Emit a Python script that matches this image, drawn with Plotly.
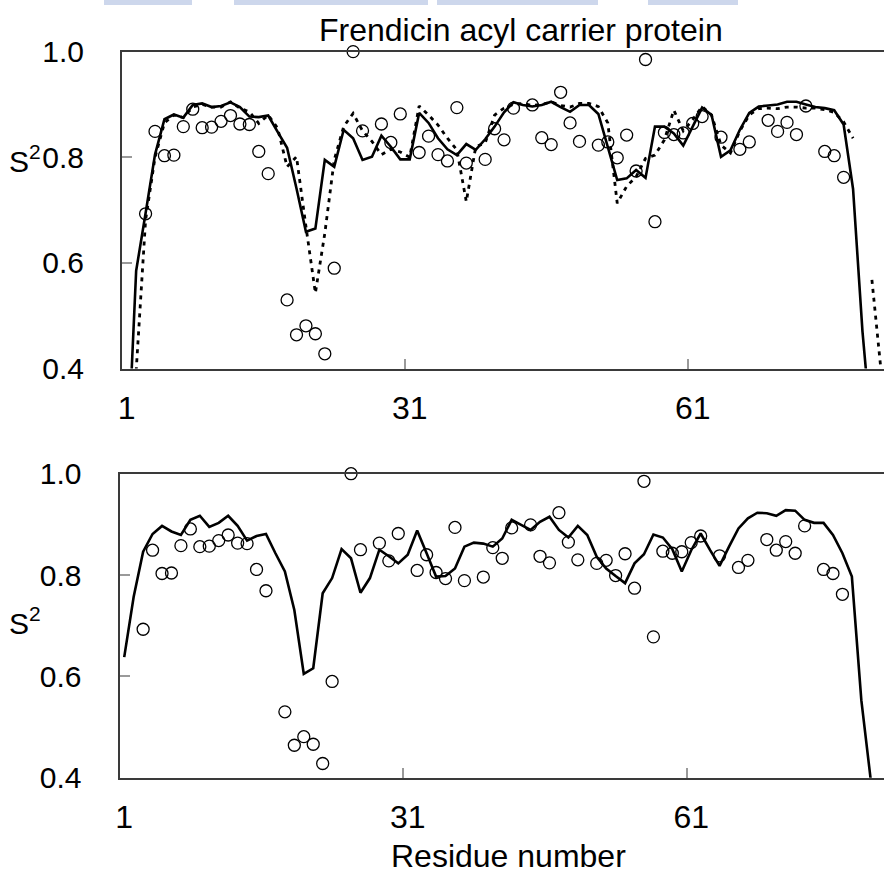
import plotly.graph_objects as go

# ---------------- data ----------------
residues = list(range(1, 82))

solid_top = [0.19, 0.585, 0.694, 0.805, 0.872, 0.881, 0.875, 0.899, 0.902, 0.895,
             0.897, 0.904, 0.895, 0.877, 0.876, 0.879, 0.848, 0.818, 0.741, 0.659,
             0.665, 0.795, 0.782, 0.852, 0.836, 0.795, 0.801, 0.841, 0.820, 0.796,
             0.796, 0.884, 0.865, 0.836, 0.815, 0.804, 0.825, 0.814, 0.834, 0.858,
             0.885, 0.904, 0.899, 0.896, 0.899, 0.905, 0.895, 0.886, 0.899, 0.899,
             0.882, 0.820, 0.757, 0.760, 0.776, 0.761, 0.858, 0.858, 0.845, 0.822,
             0.858, 0.894, 0.880, 0.801, 0.813, 0.852, 0.884, 0.896, 0.898, 0.900,
             0.905, 0.905, 0.900, 0.895, 0.893, 0.889, 0.862, 0.740, 0.470, 0.270,
             None]

dotted_top = [None, 0.395, 0.681, 0.800, 0.865, 0.880, 0.875, 0.895, 0.900, 0.895,
              0.895, 0.905, 0.893, 0.886, 0.864, 0.880, 0.855, 0.782, 0.801, 0.669,
              0.543, 0.656, 0.795, 0.858, 0.883, 0.850, 0.830, 0.805, 0.815, 0.810,
              0.800, 0.897, 0.880, 0.861, 0.836, 0.814, 0.716, 0.820, 0.827, 0.880,
              0.893, 0.900, 0.902, 0.898, 0.900, 0.905, 0.898, 0.895, 0.902, 0.902,
              0.896, 0.865, 0.713, 0.745, 0.763, 0.798, 0.804, 0.833, 0.889, 0.850,
              0.871, 0.896, 0.880, 0.823, 0.808, 0.850, 0.880, 0.892, 0.893, 0.892,
              0.895, 0.895, 0.893, 0.893, 0.890, 0.885, 0.867, 0.836, None, 0.568,
              0.390]

solid_bottom = [0.638, 0.757, 0.846, 0.881, 0.897, 0.886, 0.879, 0.909, 0.917, 0.895,
                0.903, 0.917, 0.897, 0.868, 0.877, 0.881, 0.843, 0.807, 0.731, 0.605,
                0.616, 0.764, 0.794, 0.851, 0.833, 0.765, 0.794, 0.850, 0.837, 0.823,
                0.840, 0.888, 0.843, 0.797, 0.798, 0.813, 0.856, 0.864, 0.862, 0.856,
                0.872, 0.909, 0.899, 0.889, 0.905, 0.915, 0.889, 0.874, 0.897, 0.879,
                0.836, 0.813, 0.798, 0.784, 0.823, 0.841, 0.880, 0.874, 0.851, 0.807,
                0.849, 0.882, 0.849, 0.818, 0.856, 0.892, 0.912, 0.923, 0.922, 0.917,
                0.928, 0.927, 0.909, 0.903, 0.903, 0.879, 0.843, 0.797, 0.553, 0.395,
                None]

circle_residues = [3, 4, 5, 6, 7, 8, 9, 10, 11, 12, 13, 14, 15, 16, 18, 19, 20, 21, 22, 23,
                   25, 26, 28, 29, 30, 32, 33, 34, 35, 36, 37, 39, 40, 41, 42, 44, 45, 46,
                   47, 48, 49, 51, 52, 53, 54, 55, 56, 57, 58, 59, 60, 61, 62, 64, 66, 67,
                   69, 70, 71, 72, 73, 75, 76, 77]
circle_s2 = [0.693, 0.849, 0.803, 0.804, 0.858, 0.891, 0.856, 0.857, 0.868, 0.879,
             0.863, 0.862, 0.811, 0.769, 0.530, 0.464, 0.481, 0.466, 0.428, 0.590,
             1.000, 0.850, 0.863, 0.828, 0.882, 0.809, 0.840, 0.805, 0.793, 0.894,
             0.789, 0.796, 0.854, 0.833, 0.893, 0.899, 0.837, 0.824, 0.923, 0.865,
             0.830, 0.823, 0.829, 0.799, 0.842, 0.774, 0.985, 0.678, 0.847, 0.843,
             0.846, 0.864, 0.877, 0.838, 0.815, 0.829, 0.870, 0.849, 0.866, 0.843,
             0.897, 0.811, 0.803, 0.762]

x_tick_vals = [1, 31, 61]
x_tick_text = ["1", "31", "61"]
x_mark_vals = [30.5, 60.5]
y_tick_vals = [0.4, 0.6, 0.8, 1.0]

title_text = "Frendicin acyl carrier protein"
x_title = "Residue number"
y_title = "S<sup>2</sup>"

# ---------------- figure ----------------
W, H = 884, 881
FONT = "Liberation Sans, Arial, sans-serif"
FS = 32
FS_Y = 30
AXC = "#3a3a3a"
TICKC = "#9a9a9a"

fig = go.Figure()

line_style = dict(color="black", width=2.6)
marker_style = dict(symbol="circle-open", size=12, color="black",
                    line=dict(width=1.3, color="black"))

# top panel
fig.add_trace(go.Scatter(x=residues, y=dotted_top, mode="lines",
                         line=dict(color="black", width=2.8, dash="4px,5px"),
                         xaxis="x", yaxis="y", showlegend=False))
fig.add_trace(go.Scatter(x=residues, y=solid_top, mode="lines", line=line_style,
                         xaxis="x", yaxis="y", showlegend=False))
fig.add_trace(go.Scatter(x=circle_residues, y=circle_s2, mode="markers",
                         marker=marker_style, cliponaxis=False,
                         xaxis="x", yaxis="y", showlegend=False))
# bottom panel
fig.add_trace(go.Scatter(x=residues, y=solid_bottom, mode="lines", line=line_style,
                         xaxis="x2", yaxis="y2", showlegend=False))
fig.add_trace(go.Scatter(x=circle_residues, y=circle_s2, mode="markers",
                         marker=marker_style, cliponaxis=False,
                         xaxis="x2", yaxis="y2", showlegend=False))

def xaxis_cfg(left_px, px_per_res, anchor):
    right_val = 0.5 + (W - left_px) / px_per_res
    return dict(domain=[left_px / W, 1.0], range=[0.5, right_val], anchor=anchor,
                showgrid=False, zeroline=False, showline=True, mirror=True,
                linecolor=AXC, linewidth=2,
                tickmode="array", tickvals=x_tick_vals, ticktext=x_tick_text,
                ticks="", ticklabelstandoff=10,
                tickfont=dict(family=FONT, size=FS, color="black"),
                minor=dict(tickmode="array", tickvals=x_mark_vals, ticks="inside",
                           ticklen=10, tickwidth=1.5, tickcolor=TICKC, showgrid=False),
                automargin=False)

def yaxis_cfg(top_px, bottom_px, anchor):
    return dict(domain=[(H - bottom_px) / H, (H - top_px) / H], range=[0.4, 1.0],
                anchor=anchor, showgrid=False, zeroline=False, showline=True,
                mirror=False, linecolor=AXC, linewidth=2,
                tickmode="array", tickvals=y_tick_vals, tickformat=".1f",
                ticks="inside", ticklen=10, tickwidth=1.5, tickcolor=TICKC,
                ticklabelstandoff=30,
                tickfont=dict(family=FONT, size=FS_Y, color="black"),
                automargin=False)

fig.update_layout(
    width=W, height=H,
    margin=dict(l=0, r=0, t=0, b=0),
    paper_bgcolor="white", plot_bgcolor="white",
    xaxis=xaxis_cfg(122, 9.433, "y"),
    yaxis=yaxis_cfg(51.6, 368.6, "x"),
    xaxis2=xaxis_cfg(119.5, 9.45, "y2"),
    yaxis2=yaxis_cfg(473.7, 777.7, "x2"),
)

annotations = [
    dict(text=title_text, x=521 / W, y=(H - 30) / H, xref="paper", yref="paper",
         showarrow=False, font=dict(family=FONT, size=FS, color="black"),
         xanchor="center", yanchor="middle"),
    dict(text=x_title, x=509 / W, y=(H - 856) / H, xref="paper", yref="paper",
         showarrow=False, font=dict(family=FONT, size=FS, color="black"),
         xanchor="center", yanchor="middle"),
    dict(text=y_title, x=25 / W, y=(H - 159) / H, xref="paper", yref="paper",
         showarrow=False, font=dict(family=FONT, size=FS_Y, color="black"),
         xanchor="center", yanchor="middle"),
    dict(text=y_title, x=25 / W, y=(H - 621) / H, xref="paper", yref="paper",
         showarrow=False, font=dict(family=FONT, size=FS_Y, color="black"),
         xanchor="center", yanchor="middle"),
]
fig.update_layout(annotations=annotations)

# faint bluish strip remnants at the very top of the image
strip = [(104, 192), (234, 428), (437, 598), (648, 738)]
shapes = []
for x0, x1 in strip:
    shapes.append(dict(type="rect", xref="paper", yref="paper",
                       x0=x0 / W, x1=x1 / W, y0=(H - 5) / H, y1=1.0,
                       fillcolor="#cdd7ec", line=dict(width=0), layer="below"))
fig.update_layout(shapes=shapes)

fig.write_html("out.html")
